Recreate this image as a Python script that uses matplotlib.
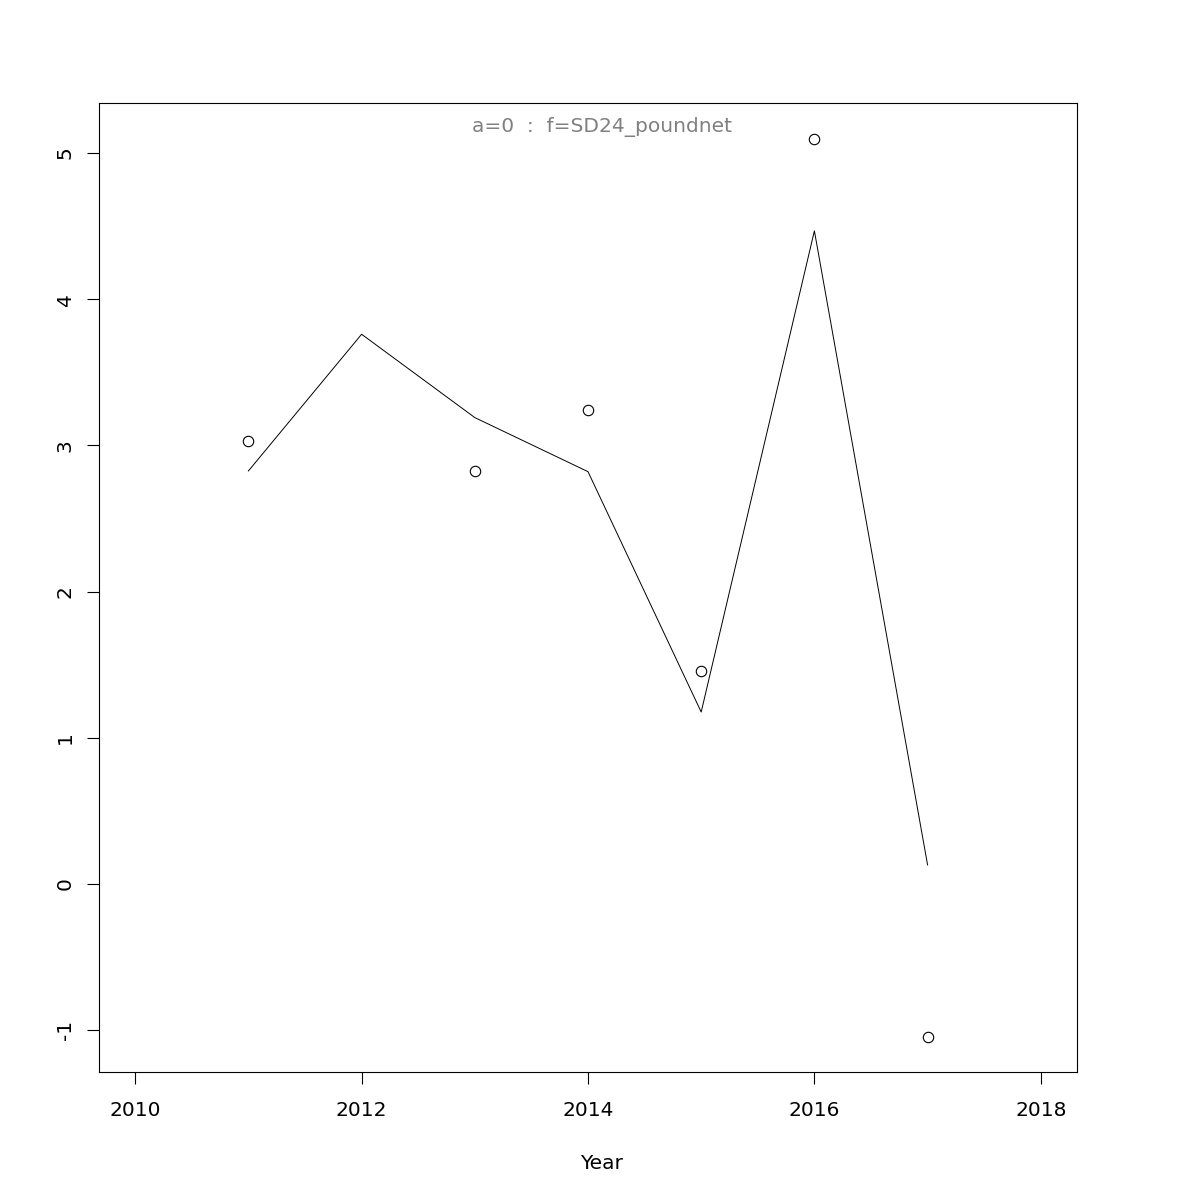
import matplotlib
matplotlib.use("Agg")
import matplotlib.pyplot as plt

years = [2011, 2012, 2013, 2014, 2015, 2016, 2017]
observed = [3.03, None, 2.825, 3.24, 1.457, 5.096, -1.047]
fitted = [2.825, 3.76, 3.19, 2.82, 1.176, 4.467, 0.13]
x_ticks = [2010, 2012, 2014, 2016, 2018]
y_ticks = [-1, 0, 1, 2, 3, 4, 5]
label_text = "a=0  :  f=SD24_poundnet"

fig = plt.figure(figsize=(12, 12), dpi=100)
ax = fig.add_axes([0.0825, 0.1067, 0.815, 0.8075])

obs_x = [x for x, y in zip(years, observed) if y is not None]
obs_y = [y for y in observed if y is not None]
ax.plot(obs_x, obs_y, linestyle="none", marker="o", markersize=7.5,
        markerfacecolor="none", markeredgecolor="black", markeredgewidth=0.8)
ax.plot(years, fitted, color="black", linewidth=0.7)

ax.set_xlim(2009.68, 2018.32)
ax.set_ylim(-1.286, 5.342)
ax.set_xticks(x_ticks)
ax.set_yticks(y_ticks)
ax.set_xticklabels([str(t) for t in x_ticks])
ax.set_yticklabels([str(t) for t in y_ticks], rotation=90, va="center")
ax.tick_params(axis="x", length=8.6, width=0.8, pad=12, labelsize=14.5)
ax.tick_params(axis="y", length=8.6, width=0.8, pad=9, labelsize=14.5)
for s in ax.spines.values():
    s.set_linewidth(0.8)

ax.set_xlabel("Year", fontsize=14.5)
ax.xaxis.set_label_coords(0.5133, -0.085)
ax.text(0.5143, 0.975, label_text, transform=ax.transAxes, ha="center",
        va="center", color="grey", fontsize=14.5)

fig.savefig("out.png", dpi=100)
